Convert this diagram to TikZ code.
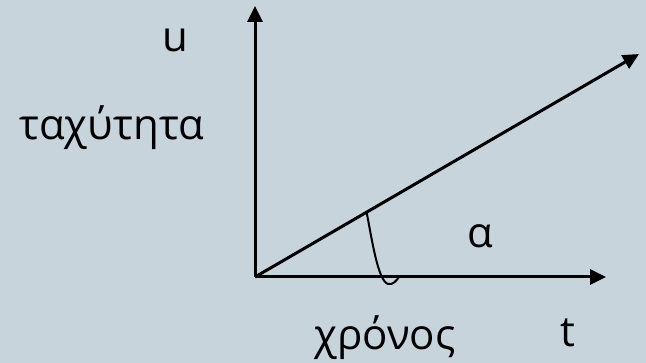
\documentclass[tikz,border=0pt]{standalone}
\usepackage{fontspec}
\setmainfont{Open Sans}
\usetikzlibrary{arrows.meta}
\definecolor{bg}{RGB}{200,212,220}
\tikzset{
  axis/.style={line width=3pt, -{Triangle[length=16pt,width=15pt]}},
  lbl/.style={font=\fontsize{42}{48}\selectfont, inner sep=0pt, text=black},
  anglemark/.style={line width=2pt}
}
\begin{document}
\begin{tikzpicture}[x=1pt,y=-1pt]
\fill[bg] (0,0) rectangle (646,363);
\useasboundingbox (0,0) rectangle (646,363);
\coordinate (O) at (255,277);
\coordinate (Y) at (255,6);
\coordinate (X) at (606,277);
\coordinate (D) at (639,54);
\coordinate (A1) at (366.7,212.6);
\coordinate (A2) at (388,284);
\coordinate (A3) at (399,277);
\draw[axis] (O) -- (Y);
\draw[axis] (O) -- (X);
\draw[axis] (O) -- (D);
\draw[anglemark] (A1) .. controls (372,240) and (378,281) .. (A2) .. controls (393,285) and (396,281) .. (A3);
\node[lbl] (u) at (175,40) {u};
\node[lbl] (v) at (112,128) {ταχύτητα};
\node[lbl] (a) at (480,236) {α};
\node[lbl] (t) at (568,333) {t};
\node[lbl] (c) at (385,338) {χρόνος};
\end{tikzpicture}
\end{document}
